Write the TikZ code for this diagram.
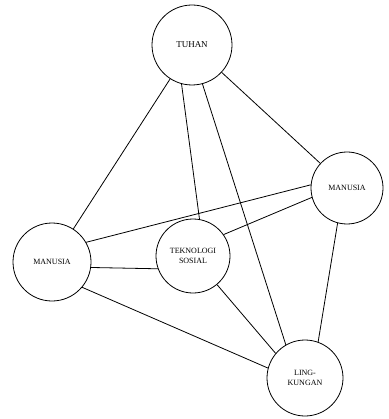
\documentclass[tikz,border=0pt]{standalone}
\usepackage{fontspec}
\setmainfont{Liberation Serif}
\usetikzlibrary{positioning}

\begin{document}
\begin{tikzpicture}[
  x=1pt, y=-1pt,
  every node/.style={font=\footnotesize},
  ent/.style={draw, circle, thick, minimum size=74pt, inner sep=0pt, align=center},
  link/.style={thick},
]

%% ── Bounding box (same proportions as the reference) ────────────────────
\useasboundingbox (0,0) rectangle (388,419);

%% ── Entities ─────────────────────────────────────────────────────────────
\node[ent, minimum size=80pt, font=\small] (tuhan) at (192,45)  {TUHAN};
\node[ent, minimum size=78pt] (manL)  at (52,262)  {MANUSIA};
\node[ent] (tekno) at (193,256) {TEKNOLOGI\\SOSIAL};
\node[ent, minimum size=72pt] (manR)  at (347,188) {MANUSIA};
\node[ent, minimum size=76pt] (ling)  at (305,378) {LING-\\KUNGAN};

%% ── Relations ────────────────────────────────────────────────────────────
\draw[link] (tuhan) -- (manL);
\draw[link] (tuhan) -- (manR);
\draw[link] (tuhan.255) -- (tekno.80);
\draw[link] (tuhan.285) -- (ling.120);
\draw[link] (manL.30) -- (manR.175);
\draw[link] (tekno.35) -- (manR.195);
\draw[link] (manL.-8) -- (tekno.200);
\draw[link] (manL.-40) -- (ling.165);
\draw[link] (tekno.-50) -- (ling.140);
\draw[link] (manR.-105) -- (ling.70);

\end{tikzpicture}
\end{document}
